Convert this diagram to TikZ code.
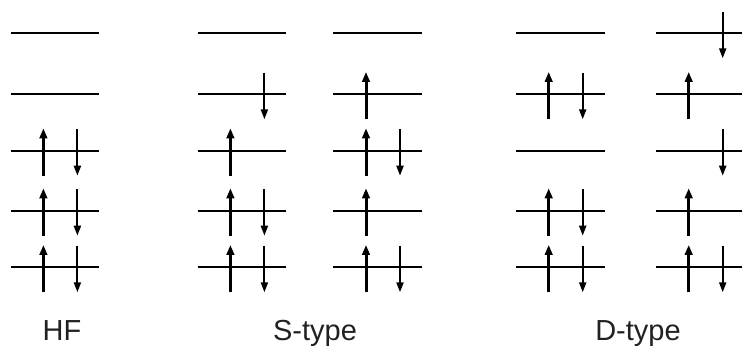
\documentclass[tikz,border=0pt]{standalone}
\usepackage{fontspec}
\setmainfont{Liberation Sans}
\usetikzlibrary{arrows.meta}
\tikzset{
  orbital/.style={line width=2.2pt},
  upspin/.style={line width=3pt,-{Triangle[length=10pt,width=7.5pt]}},
  downspin/.style={line width=2pt,-{Triangle[length=10pt,width=7pt]}},
  lab/.style={font=\fontsize{29}{34}\selectfont,text=black!87,anchor=base,inner sep=0pt}
}
\begin{document}
\begin{tikzpicture}[x=1pt,y=-1pt]
\useasboundingbox (0,0) rectangle (742,347);
% columns: name/x-start/occupancies of levels 1..5 (bottom to top)
\foreach \cname/\cx/\occ in {hf/10.7/{3,3,3,0,0}, sa/197.7/{3,3,1,2,0}, sb/333.3/{3,1,3,1,0}, da/516/{3,3,0,3,0}, db/656/{3,1,2,1,2}}{
  \foreach \ly [count=\i] in {267.3,210.7,150.7,94.3,33.3}{
    \coordinate (\cname-\i-l) at (\cx,\ly);
    \coordinate (\cname-\i-r) at (\cx+88.7,\ly);
    \coordinate (\cname-\i-ub) at (\cx+32.7,\ly+25);
    \coordinate (\cname-\i-ut) at (\cx+32.7,\ly-22.4);
    \coordinate (\cname-\i-dt) at (\cx+66.7,\ly-21.7);
    \coordinate (\cname-\i-db) at (\cx+66.7,\ly+25);
    \draw[orbital] (\cname-\i-l) -- (\cname-\i-r);
  }
  \foreach \o [count=\i] in \occ{
    \ifnum\o=1 \draw[upspin] (\cname-\i-ub) -- (\cname-\i-ut);\fi
    \ifnum\o=3 \draw[upspin] (\cname-\i-ub) -- (\cname-\i-ut);\fi
    \ifnum\o=2 \draw[downspin] (\cname-\i-dt) -- (\cname-\i-db);\fi
    \ifnum\o=3 \draw[downspin] (\cname-\i-dt) -- (\cname-\i-db);\fi
  }
}
\node[lab] (hflab) at (62,340.3) {HF};
\node[lab] (slab) at (315,340.3) {S-type};
\node[lab] (dlab) at (638,340.3) {D-type};
\end{tikzpicture}
\end{document}
